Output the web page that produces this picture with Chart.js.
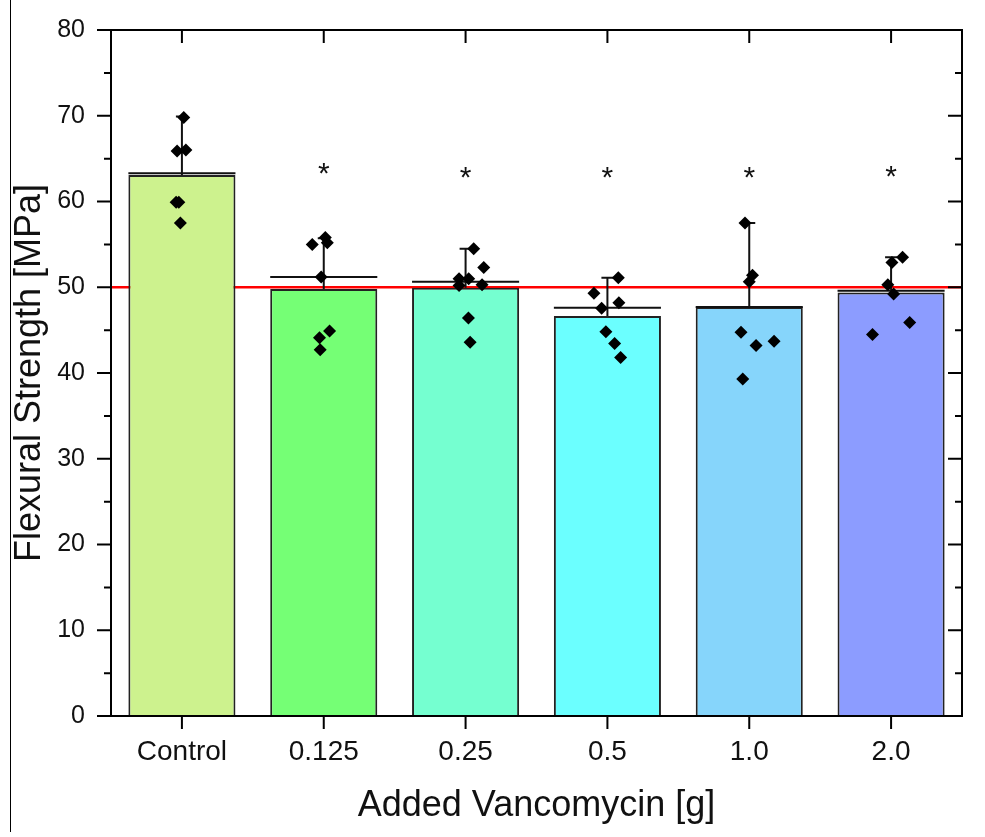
<!DOCTYPE html>
<html>
<head>
<meta charset="utf-8">
<script src="https://cdn.jsdelivr.net/npm/chart.js@4.4.0/dist/chart.umd.min.js"></script>
<style>
  html, body { margin: 0; padding: 0; background: #fff; }
  #wrap { position: relative; width: 985px; height: 837px; }
  #myChart { display: block; }
  #edge { position: absolute; left: 10px; top: 0; width: 1px; height: 832px; background: #000; }
</style>
</head>
<body>
<div id="wrap">
  <canvas id="myChart" width="985" height="837"></canvas>
  <div id="edge"></div>
</div>
<script>
const categories = ["Control", "0.125", "0.25", "0.5", "1.0", "2.0"];
const barValues = [63.1, 49.8, 49.95, 46.65, 47.7, 49.4];
const meanLine = [63.3, 51.2, 50.65, 47.6, 47.7, 49.6];
const errorTop = [69.9, 55.7, 54.5, 51.1, 57.5, 53.5];
const starValues = [null, 63.7, 63.2, 63.2, 63.2, 63.3];
const barColors = ["#CDF28E", "#75FF75", "#75FFD0", "#6BFFFF", "#86D5FB", "#8C9CFF"];
const threshold = 50;

// single specimens: strength and horizontal jitter (fraction of a category)
const ptsControl = [69.8, 65.9, 66.0, 59.9, 59.9, 57.5];
const jitControl = [0.013, -0.034, 0.028, -0.041, -0.022, -0.011];
const pts0125 = [55.0, 55.8, 55.2, 51.2, 44.9, 44.1, 42.7];
const jit0125 = [-0.081, 0.011, 0.025, -0.018, 0.041, -0.030, -0.025];
const pts025 = [54.5, 52.3, 51.0, 51.0, 50.2, 50.3, 46.4, 43.6];
const jit025 = [0.057, 0.128, -0.046, 0.022, -0.046, 0.116, 0.020, 0.032];
const pts05 = [51.1, 49.3, 48.2, 47.55, 44.8, 43.45, 41.8];
const jit05 = [0.077, -0.095, 0.081, -0.041, -0.011, 0.051, 0.093];
const pts10 = [57.5, 51.4, 50.65, 44.75, 43.2, 43.7, 39.3];
const jit10 = [-0.030, 0.023, 0.0, -0.058, 0.048, 0.175, -0.046];
const pts20 = [53.5, 52.9, 50.3, 49.2, 45.9, 44.5];
const jit20 = [0.081, 0.006, -0.023, 0.018, 0.131, -0.131];

const groups = [
  [ptsControl, jitControl],
  [pts0125, jit0125],
  [pts025, jit025],
  [pts05, jit05],
  [pts10, jit10],
  [pts20, jit20],
];
const scatterData = [];
groups.forEach(([vals, jit], i) => {
  vals.forEach((v, j) => scatterData.push({ x: i + jit[j], y: v }));
});

const FONT = "'Liberation Sans', Arial, sans-serif";

const decorations = {
  id: "decorations",
  beforeDatasetsDraw(chart) {
    const { ctx, chartArea: a, scales: { y } } = chart;
    const py = y.getPixelForValue(threshold);
    ctx.save();
    ctx.strokeStyle = "#FF0000";
    ctx.lineWidth = 2.5;
    ctx.beginPath();
    ctx.moveTo(a.left, py);
    ctx.lineTo(a.right, py);
    ctx.stroke();
    ctx.restore();
  },
  afterDatasetDraw(chart, args) {
    if (args.index !== 0) return;
    const { ctx, scales: { y } } = chart;
    ctx.save();
    ctx.strokeStyle = "#111";
    ctx.lineWidth = 2;
    args.meta.data.forEach((bar, i) => {
      const cx = bar.x;
      const half = bar.width / 2;
      const pm = y.getPixelForValue(meanLine[i]);
      ctx.beginPath();
      ctx.moveTo(cx - half, pm);
      ctx.lineTo(cx + half, pm);
      ctx.stroke();
      const pt = y.getPixelForValue(errorTop[i]);
      ctx.beginPath();
      ctx.moveTo(cx, bar.y);
      ctx.lineTo(cx, pt);
      ctx.moveTo(cx - 6, pt);
      ctx.lineTo(cx + 6, pt);
      ctx.stroke();
    });
    ctx.restore();
  },
  afterDraw(chart) {
    const { ctx, chartArea: a, scales: { x, y } } = chart;
    ctx.save();
    ctx.strokeStyle = "#000";
    ctx.lineWidth = 2;
    ctx.strokeRect(a.left, a.top, a.right - a.left, a.bottom - a.top);

    ctx.beginPath();
    const ticks = y.ticks.map(t => t.value);
    ticks.forEach((v, k) => {
      const p = y.getPixelForValue(v);
      ctx.moveTo(a.left - 14, p); ctx.lineTo(a.left, p);
      ctx.moveTo(a.right, p); ctx.lineTo(a.right - 14, p);
      if (k < ticks.length - 1) {
        const pm = y.getPixelForValue((v + ticks[k + 1]) / 2);
        ctx.moveTo(a.left - 7, pm); ctx.lineTo(a.left, pm);
        ctx.moveTo(a.right, pm); ctx.lineTo(a.right - 7, pm);
      }
    });
    categories.forEach((c, i) => {
      const p = x.getPixelForTick(i);
      ctx.moveTo(p, a.bottom); ctx.lineTo(p, a.bottom + 13);
      ctx.moveTo(p, a.top); ctx.lineTo(p, a.top + 13);
    });
    ctx.stroke();

    ctx.fillStyle = "#111";
    ctx.font = "30px " + FONT;
    ctx.textAlign = "center";
    ctx.textBaseline = "alphabetic";
    starValues.forEach((v, i) => {
      if (v == null) return;
      ctx.fillText("*", x.getPixelForTick(i), y.getPixelForValue(v) + 13);
    });
    ctx.restore();
  }
};

const ctx = document.getElementById("myChart").getContext("2d");
new Chart(ctx, {
  data: {
    labels: categories,
    datasets: [
      {
        type: "bar",
        data: barValues,
        backgroundColor: barColors,
        borderColor: "#222",
        borderWidth: 2,
        barPercentage: 0.755,
        categoryPercentage: 1,
        grouped: false,
        order: 2,
      },
      {
        type: "scatter",
        xAxisID: "xp",
        data: scatterData,
        pointStyle: "rectRot",
        pointRadius: 6.5,
        backgroundColor: "#000",
        borderWidth: 0,
        order: 0,
      },
    ],
  },
  options: {
    responsive: false,
    animation: false,
    layout: { padding: { top: 30, right: 23, left: 0, bottom: 0 } },
    plugins: {
      legend: { display: false },
      tooltip: { enabled: false },
    },
    scales: {
      x: {
        type: "category",
        offset: true,
        grid: { display: false, drawTicks: false },
        border: { display: false },
        ticks: { color: "#111", font: { family: FONT, size: 28 }, padding: 19 },
        title: {
          display: true,
          text: "Added Vancomycin [g]",
          color: "#111",
          font: { family: FONT, size: 36 },
          padding: { top: 0, bottom: 9 },
        },
        afterFit: s => { s.height = 121; s.paddingLeft = 0; s.paddingRight = 0; },
      },
      xp: {
        type: "linear",
        min: -0.5,
        max: 5.5,
        display: false,
      },
      y: {
        min: 0,
        max: 80,
        grid: { display: false, drawTicks: false },
        border: { display: false },
        ticks: { stepSize: 10, color: "#111", font: { family: FONT, size: 25 }, padding: 26 },
        title: {
          display: true,
          text: "Flexural Strength [MPa]",
          color: "#111",
          font: { family: FONT, size: 36 },
          padding: { top: 8, bottom: 0 },
        },
        afterFit: s => { s.width = 111; s.paddingTop = 0; s.paddingBottom = 0; },
      },
    },
  },
  plugins: [decorations],
});
</script>
</body>
</html>
